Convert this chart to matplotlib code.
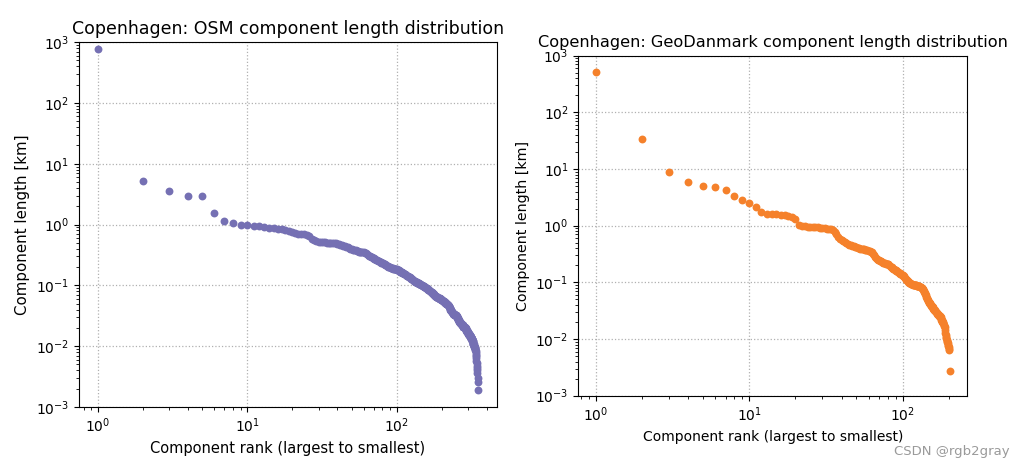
import numpy as np
import matplotlib
matplotlib.use("Agg")
import matplotlib.pyplot as plt

# component lengths in km, sorted largest to smallest
osm_lengths = [
    760, 5.2, 3.6, 2.98, 2.9, 1.56, 1.14, 1.08, 1.0, 0.97,
    0.95, 0.93, 0.91, 0.89, 0.87, 0.85, 0.83, 0.80, 0.77, 0.75,
    0.73, 0.71, 0.70, 0.69, 0.68, 0.66, 0.58, 0.56, 0.54, 0.52,
    0.52, 0.51, 0.51, 0.50, 0.50, 0.50, 0.49, 0.49, 0.49, 0.48,
    0.48, 0.47, 0.46, 0.45, 0.44, 0.43, 0.42, 0.41, 0.40, 0.39,
    0.385, 0.38, 0.375, 0.37, 0.365, 0.36, 0.36, 0.358, 0.356, 0.354,
    0.345, 0.335, 0.325, 0.315, 0.305, 0.30, 0.295, 0.29, 0.285, 0.28,
    0.275, 0.27, 0.265, 0.26, 0.255, 0.25, 0.245, 0.24, 0.237, 0.234,
    0.23, 0.226, 0.222, 0.218, 0.214, 0.21, 0.206, 0.203, 0.20, 0.198,
    0.196, 0.194, 0.192, 0.19, 0.189, 0.188, 0.187, 0.186, 0.185, 0.184,
    0.182, 0.18, 0.178, 0.175, 0.172, 0.169, 0.166, 0.163, 0.161, 0.159,
    0.157, 0.155, 0.153, 0.151, 0.149, 0.147, 0.145, 0.143, 0.141, 0.139,
    0.137, 0.135, 0.133, 0.131, 0.129, 0.127, 0.125, 0.123, 0.121, 0.119,
    0.117, 0.116, 0.115, 0.114, 0.113, 0.112, 0.111, 0.110, 0.109, 0.108,
    0.107, 0.106, 0.105, 0.104, 0.103, 0.102, 0.101, 0.100, 0.099, 0.098,
    0.097, 0.096, 0.095, 0.094, 0.093, 0.092, 0.091, 0.090, 0.089, 0.088,
    0.087, 0.086, 0.085, 0.084, 0.083, 0.082, 0.081, 0.080, 0.079, 0.078,
    0.077, 0.076, 0.075, 0.074, 0.073, 0.072, 0.071, 0.070, 0.069, 0.068,
    0.067, 0.066, 0.066, 0.065, 0.065, 0.064, 0.064, 0.063, 0.063, 0.062,
    0.062, 0.061, 0.061, 0.061, 0.060, 0.060, 0.059, 0.059, 0.058, 0.058,
    0.057, 0.057, 0.056, 0.056, 0.055, 0.055, 0.054, 0.054, 0.053, 0.053,
    0.052, 0.052, 0.051, 0.051, 0.050, 0.050, 0.049, 0.049, 0.048, 0.048,
    0.047, 0.047, 0.046, 0.045, 0.044, 0.043, 0.042, 0.041, 0.040, 0.039,
    0.038, 0.038, 0.037, 0.037, 0.036, 0.036, 0.035, 0.035, 0.034, 0.034,
    0.034, 0.034, 0.033, 0.033, 0.033, 0.033, 0.033, 0.032, 0.032, 0.032,
    0.031, 0.031, 0.030, 0.030, 0.029, 0.029, 0.028, 0.028, 0.027, 0.027,
    0.026, 0.026, 0.025, 0.025, 0.025, 0.024, 0.024, 0.024, 0.023, 0.023,
    0.023, 0.023, 0.022, 0.022, 0.022, 0.022, 0.022, 0.021, 0.021, 0.021,
    0.021, 0.021, 0.021, 0.021, 0.021, 0.020, 0.020, 0.020, 0.020, 0.019,
    0.019, 0.019, 0.018, 0.018, 0.018, 0.018, 0.017, 0.017, 0.017, 0.017,
    0.016, 0.016, 0.016, 0.016, 0.015, 0.015, 0.015, 0.015, 0.015, 0.014,
    0.014, 0.014, 0.014, 0.014, 0.014, 0.013, 0.013, 0.013, 0.013, 0.013,
    0.012, 0.012, 0.012, 0.011, 0.011, 0.011, 0.011, 0.010, 0.010, 0.010,
    0.0098, 0.0096, 0.0094, 0.0092, 0.009, 0.0087, 0.0083, 0.0078, 0.0073, 0.0068,
    0.0063, 0.0058, 0.0053, 0.0048, 0.0044, 0.0040, 0.0036, 0.0030, 0.0026, 0.0019,
]

geodk_lengths = [
    515, 34, 9.0, 6.0, 5.1, 4.8, 4.2, 3.3, 2.8, 2.5,
    2.1, 1.75, 1.63, 1.6, 1.58, 1.57, 1.55, 1.5, 1.42, 1.3,
    1.04, 1.0, 0.97, 0.96, 0.95, 0.94, 0.93, 0.93, 0.92, 0.91,
    0.90, 0.89, 0.88, 0.87, 0.85, 0.78, 0.70, 0.63, 0.58, 0.55,
    0.53, 0.51, 0.49, 0.47, 0.46, 0.45, 0.44, 0.43, 0.42, 0.415,
    0.41, 0.40, 0.395, 0.39, 0.385, 0.38, 0.375, 0.37, 0.365, 0.36,
    0.355, 0.35, 0.34, 0.32, 0.30, 0.28, 0.265, 0.255, 0.25, 0.245,
    0.24, 0.235, 0.23, 0.227, 0.224, 0.221, 0.218, 0.215, 0.212, 0.21,
    0.207, 0.203, 0.198, 0.19, 0.183, 0.178, 0.174, 0.17, 0.167, 0.164,
    0.161, 0.158, 0.155, 0.152, 0.149, 0.146, 0.143, 0.14, 0.137, 0.134,
    0.131, 0.127, 0.123, 0.119, 0.115, 0.112, 0.109, 0.106, 0.103, 0.100,
    0.098, 0.096, 0.095, 0.094, 0.093, 0.092, 0.091, 0.090, 0.090, 0.089,
    0.089, 0.088, 0.088, 0.087, 0.087, 0.086, 0.086, 0.085, 0.085, 0.084,
    0.083, 0.082, 0.081, 0.080, 0.078, 0.076, 0.074, 0.071, 0.068, 0.065,
    0.062, 0.059, 0.056, 0.053, 0.050, 0.048, 0.046, 0.045, 0.044, 0.043,
    0.042, 0.041, 0.040, 0.039, 0.038, 0.037, 0.036, 0.035, 0.034, 0.033,
    0.032, 0.032, 0.031, 0.031, 0.030, 0.030, 0.029, 0.029, 0.028, 0.028,
    0.027, 0.027, 0.026, 0.026, 0.025, 0.025, 0.024, 0.023, 0.022, 0.0215,
    0.021, 0.020, 0.020, 0.019, 0.019, 0.018, 0.017, 0.016, 0.0145, 0.013,
    0.012, 0.011, 0.0105, 0.0098, 0.0094, 0.009, 0.0085, 0.008, 0.0075, 0.0071,
    0.0067, 0.0064, 0.0027,
]

OSM_COLOR = "#7570b3"
GEODK_COLOR = "#f5812b"


def draw_panel(ax, lengths, color, title, title_size, label_size):
    ranks = np.arange(1, len(lengths) + 1)
    ax.scatter(ranks, lengths, s=32, color=color, linewidths=0, zorder=3)
    ax.set_xscale("log")
    ax.set_yscale("log")
    ax.set_ylim(1e-3, 1e3)
    ax.grid(True, which="major", linestyle=":", color="#b0b0b0", linewidth=0.9)
    ax.set_title(title, fontsize=title_size)
    ax.set_xlabel("Component rank (largest to smallest)", fontsize=label_size)
    ax.set_ylabel("Component length [km]", fontsize=label_size + 0.3)
    ax.tick_params(labelsize=10)


fig = plt.figure(figsize=(10.27, 4.66), dpi=100)

ax1 = fig.add_axes([0.0769, 0.1266, 0.407, 0.783])
draw_panel(ax1, osm_lengths, OSM_COLOR,
           "Copenhagen: OSM component length distribution", 12.5, 10.5)

ax2 = fig.add_axes([0.5631, 0.1509, 0.3788, 0.7296])
draw_panel(ax2, geodk_lengths, GEODK_COLOR,
           "Copenhagen: GeoDanmark component length distribution", 11.6, 10.0)

fig.text(0.983, 0.018, "CSDN @rgb2gray", ha="right", va="bottom",
         fontsize=9.5, color="#9a9a9a")

fig.savefig("out.png", dpi=100)
